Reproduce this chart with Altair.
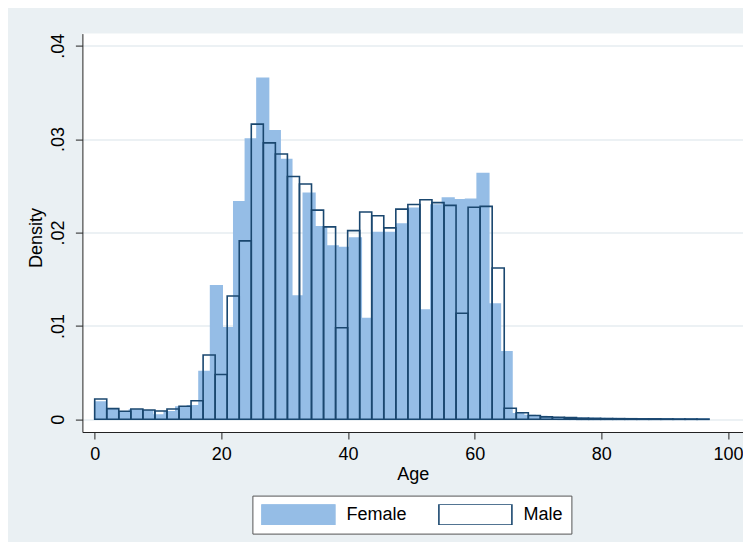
import altair as alt
import pandas as pd

# Density per bin
female_density = [0.00185, 0.00105, 0.00080, 0.00100, 0.00090, 0.00045, 0.00080, 0.00130, 0.00145,
                  0.00510, 0.01430, 0.00980, 0.02330, 0.03000, 0.03650, 0.03090, 0.02780, 0.01320,
                  0.02420, 0.02060, 0.01855, 0.01840, 0.01940, 0.01080, 0.02000, 0.02000, 0.02090,
                  0.02260, 0.01170, 0.02295, 0.02370, 0.02350, 0.02355, 0.02630, 0.01235, 0.00724,
                  0.00060, 0.00040, 0.00030, 0.00020, 0.00015, 0.00012, 0.00010, 0.00008, 0.00007,
                  0.00006, 0.00005, 0.00005, 0.00004, 0.00004, 0.00003, 0.00003, 0.00002]
male_density = [0.00217, 0.00114, 0.00086, 0.00110, 0.00100, 0.00089, 0.00110, 0.00139, 0.00199,
                0.00688, 0.00480, 0.01320, 0.01910, 0.03160, 0.02960, 0.02840, 0.02600, 0.02520,
                0.02240, 0.02060, 0.00980, 0.02020, 0.02220, 0.02180, 0.02050, 0.02250, 0.02300,
                0.02350, 0.02320, 0.02290, 0.01135, 0.02270, 0.02280, 0.01620, 0.00118, 0.00070,
                0.00040, 0.00026, 0.00022, 0.00018, 0.00012, 0.00010, 0.00008, 0.00007, 0.00006,
                0.00005, 0.00005, 0.00004, 0.00003, 0.00003, 0.00002]
age_min = 0
age_max = 97
female_bins = 53
male_bins = 51
series = ["Female", "Male"]
x_ticks = [0, 20, 40, 60, 80, 100]
y_ticks = [0, 0.01, 0.02, 0.03, 0.04]

FEMALE_FILL = "#95BDE6"
MALE_LINE = "#1A476F"
BG = "#EAF0F3"
FONT = "Liberation Sans"

rows = []
fw = (age_max - age_min) / female_bins
for k, v in enumerate(female_density):
    rows.append({"sex": "Female", "start": age_min + k * fw, "end": age_min + (k + 1) * fw, "density": v})
mw = (age_max - age_min) / male_bins
for k, v in enumerate(male_density):
    rows.append({"sex": "Male", "start": age_min + k * mw, "end": age_min + (k + 1) * mw, "density": v})
df = pd.DataFrame(rows)

legend = alt.Legend(
    title=None,
    orient="none",
    legendX=170,
    legendY=462,
    direction="horizontal",
    fillColor="white",
    strokeColor="#555555",
    padding=8.5,
    symbolType="M-1,-0.2836L1,-0.2836L1,0.2836L-1,0.2836Z",
    symbolSize=5329,
    clipHeight=20.7,
    labelOffset=10.5,
    columnPadding=31,
    labelFontSize=18,
    labelFont=FONT,
    labelColor="black",
    symbolStrokeWidth=1.6,
    symbolOpacity=1,
)

chart = alt.Chart(df).mark_bar(strokeWidth=1.6).encode(
    x=alt.X(
        "start:Q",
        scale=alt.Scale(domain=[-1.942, 102.37], nice=False, zero=False),
        axis=alt.Axis(
            values=x_ticks, title="Age", grid=False, tickSize=7, labelPadding=6,
            labelFontSize=18, titleFontSize=18, titleFontWeight="normal",
            titleY=47, titleBaseline="alphabetic",
        ),
    ),
    x2="end:Q",
    y=alt.Y(
        "density:Q",
        scale=alt.Scale(domain=[-0.00136, 0.041296], nice=False, zero=False),
        axis=alt.Axis(
            values=y_ticks, title="Density", grid=True, tickSize=7,
            labelAngle=270, labelAlign="center", labelBaseline="alphabetic", labelPadding=12,
            labelExpr="datum.value == 0 ? '0' : '.0' + round(datum.value * 100)",
            labelFontSize=18, titleFontSize=18, titleFontWeight="normal",
            titleAngle=270, titleBaseline="alphabetic", titleAlign="center",
            titleX=-41, titleY=204,
        ),
    ),
    y2=alt.datum(0),
    fill=alt.Fill("sex:N", scale=alt.Scale(domain=series, range=[FEMALE_FILL, "rgba(0,0,0,0)"]), legend=legend),
    stroke=alt.Stroke("sex:N", scale=alt.Scale(domain=series, range=[FEMALE_FILL, MALE_LINE]), legend=legend),
).properties(
    width=660.6,
    height=398.4,
    background=BG,
    padding={"left": 74.4, "top": 25.6, "right": 0, "bottom": 110},
    autosize=alt.AutoSizeParams(type="none"),
).configure_view(
    fill="white", stroke=None,
).configure_axis(
    labelFont=FONT, titleFont=FONT, labelColor="black", titleColor="black",
    domainColor="#222222", tickColor="#222222", domainWidth=1, tickWidth=1,
    gridColor="#E6EDF0", gridWidth=1.5,
)

chart.save("out.html", embed_options={"renderer": "svg", "actions": False})
